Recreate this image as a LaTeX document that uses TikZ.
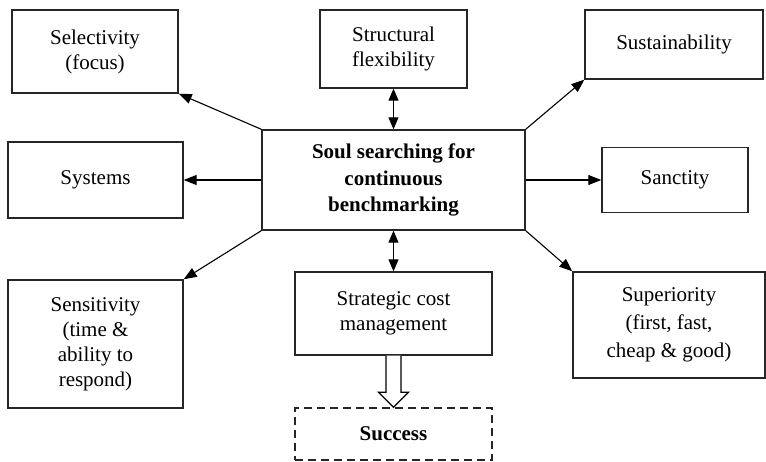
\documentclass[tikz,border=0pt]{standalone}
\usepackage{fontspec}
\setmainfont{Liberation Serif}
\usetikzlibrary{arrows.meta,calc}
\begin{document}
\begin{tikzpicture}[x=1pt,y=-1pt,
  box/.style={draw=black!85, line width=1.4pt, align=center, inner sep=0pt,
    font=\fontsize{21}{25}\selectfont},
  conn/.style={line width=1.1pt, -{Triangle[length=13pt,width=10pt]}},
  dconn/.style={line width=1.1pt, {Triangle[length=12pt,width=10pt]}-{Triangle[length=12pt,width=10pt]}}]
\useasboundingbox (0,0) rectangle (766,462);
\node[box, minimum width=166pt, minimum height=83pt] (sel) at (95,51.5) {Selectivity\\(focus)};
\node[box, minimum width=147pt, minimum height=78pt] (str) at (393.5,49) {Structural\\flexibility};
\node[box, minimum width=178pt, minimum height=69pt] (sus) at (674,44.5) {Sustainability};
\node[box, minimum width=263pt, minimum height=100pt, font=\fontsize{21}{26.5}\selectfont\bfseries] (cen) at (393.5,180) {Soul searching for\\continuous\\benchmarking};
\node[box, minimum width=175pt, minimum height=76pt] (sys) at (95.5,180) {Systems};
\node[box, minimum width=146pt, minimum height=65pt] (san) at (675,180) {Sanctity};
\node[box, minimum width=175pt, minimum height=128pt] (sen) at (95.5,344) {Sensitivity\\(time \&\\ability to\\respond)};
\node[box, minimum width=197pt, minimum height=83pt] (scm) at (393.5,313.5) {Strategic cost\\management};
\node[box, minimum width=192pt, minimum height=106pt, font=\fontsize{21}{28}\selectfont] (sup) at (669,325) {Superiority\\(first, fast,\\cheap \& good)};
\node[box, dash pattern=on 8pt off 5pt, minimum width=197pt, minimum height=52pt, font=\fontsize{21}{25}\selectfont\bfseries] (suc) at (393.5,434) {Success};
\draw[conn] (cen.north west) -- (sel.south east);
\draw[conn] (cen.north east) -- (sus.south west);
\draw[conn] (cen.west) -- (sys.east);
\draw[conn] (cen.east) -- (san.west);
\draw[conn] (cen.south west) -- (sen.north east);
\draw[conn] (cen.south east) -- (sup.north west);
\draw[dconn] (str.south) -- (cen.north);
\draw[dconn] (cen.south) -- (scm.north);
\draw[line width=1.3pt, fill=white, line join=miter]
  ($(scm.south)+(-7.5,0)$) -- ($(suc.north)+(-7.5,-15)$) -- ($(suc.north)+(-15,-15)$)
  -- (suc.north) -- ($(suc.north)+(15,-15)$) -- ($(suc.north)+(7.5,-15)$) -- ($(scm.south)+(7.5,0)$);
\end{tikzpicture}
\end{document}
